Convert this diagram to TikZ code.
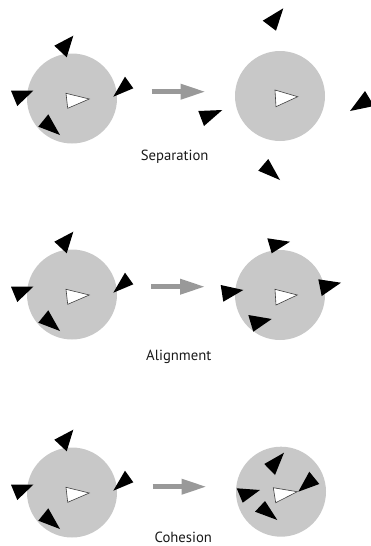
\documentclass[tikz,border=0pt]{standalone}
\usepackage{fontspec}
\setmainfont{PT Sans}
\usetikzlibrary{arrows.meta}
\definecolor{zonegray}{RGB}{200,200,200}
\definecolor{arrowgray}{RGB}{153,153,153}
\definecolor{textgray}{RGB}{25,25,25}
\begin{document}
\begin{tikzpicture}[x=1pt,y=-1pt,
  zone/.style={circle,fill=zonegray,minimum size=90pt,inner sep=0pt},
  boid/.style={fill=black},
  me/.style={fill=white,draw=black!75,line width=0.6pt,line join=miter},
  move/.style={draw=arrowgray,line width=4.7pt,-{Triangle[length=25pt,width=14.7pt]}},
  lbl/.style={font=\fontsize{14.7}{16}\selectfont,text=textgray,anchor=base,inner sep=0pt}]
\useasboundingbox (0,0) rectangle (371,546);

% left groups (identical in the three panels)
\foreach \dy/\n in {0/1,196/2,394/3}{
  \begin{scope}[shift={(0,\dy)}]
    \node[zone] (L\n) at (72,98.5) {};
    \fill[boid] (54.3,45.7) -- (73.3,35.7) -- (66.7,57.3) -- cycle;
    \fill[boid] (125,76.7) -- (133.3,88.3) -- (113.3,96.7) -- cycle;
    \fill[boid] (11,90.7) -- (33.3,90.7) -- (17.3,106) -- cycle;
    \fill[boid] (48.3,114.3) -- (60,135) -- (38.3,126.7) -- cycle;
    \draw[me] (66,93.3) -- (67.7,108.3) -- (89.3,99) -- cycle;
  \end{scope}
}

% Separation (right)
\node[zone] (R1) at (280,96) {};
\fill[boid] (262.7,20.7) -- (283.3,8.3) -- (276,30.7) -- cycle;
\fill[boid] (198.3,111) -- (222.3,110) -- (204,126) -- cycle;
\fill[boid] (350,111) -- (365,91) -- (374,106) -- cycle;
\fill[boid] (268.3,159) -- (280,180) -- (258.3,170.7) -- cycle;
\draw[me] (275,90) -- (276,106.7) -- (297.7,96.7) -- cycle;

% Alignment (right)
\node[zone] (R2) at (280,295) {};
\fill[boid] (267.3,238.3) -- (290,241.7) -- (271.7,253.3) -- cycle;
\fill[boid] (220.7,285) -- (243.3,290) -- (223.3,301.7) -- cycle;
\fill[boid] (318.3,279.3) -- (341,282.7) -- (321.7,296) -- cycle;
\fill[boid] (248.3,315) -- (271.7,319) -- (253.3,331.7) -- cycle;
\draw[me] (275,289.3) -- (276,305) -- (297.3,295) -- cycle;

% Cohesion (right)
\node[zone] (R3) at (281,491.7) {};
\fill[boid] (264.3,464) -- (284,452.7) -- (275,475) -- cycle;
\fill[boid] (309.3,471.7) -- (319.3,484) -- (298.3,491.7) -- cycle;
\fill[boid] (236.7,488.3) -- (260,490) -- (242.7,502.7) -- cycle;
\fill[boid] (265,501) -- (277.3,520) -- (255,511.7) -- cycle;
\draw[me] (273.3,487.7) -- (275.7,502.7) -- (297.3,491.7) -- cycle;

% arrows
\coordinate (a1s) at (151.7,91.7);  \coordinate (a1e) at (205.5,91.7);
\coordinate (a2s) at (151,286.7);   \coordinate (a2e) at (205,286.7);
\coordinate (a3s) at (152.7,486.7); \coordinate (a3e) at (206.5,486.7);
\draw[move] (a1s) -- (a1e);
\draw[move] (a2s) -- (a2e);
\draw[move] (a3s) -- (a3e);

% labels
\node[lbl] (t1) at (174.7,160) {Separation};
\node[lbl] (t2) at (178.8,360.7) {Alignment};
\node[lbl] (t3) at (183.3,542.7) {Cohesion};
\end{tikzpicture}
\end{document}
